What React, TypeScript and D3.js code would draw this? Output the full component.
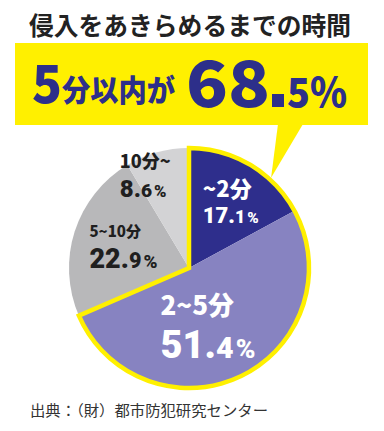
import React from "react";
import * as d3 from "d3";

const categories = ["~2分", "2~5分", "5~10分", "10分~"];
const values = [17.1, 51.4, 22.9, 8.6];
const valueLabels = ["17.1", "51.4", "22.9", "8.6"];
const colors = ["#2e2e8c", "#8783c1", "#b8b8ba", "#d3d3d5"];
const titleText = "侵入をあきらめるまでの時間";
const sourceText = "出典：（財）都市防犯研究センター";

const W = 384;
const H = 431;
const cx = 189;
const cy = 268;
const R = 120;
const YELLOW = "#fff000";
const NAVY = "#2d2f8a";

// label styling per slice: offsets from centroid, sizes, color
const labelStyle = [
  { dx: -23, dy: -9, s1: 22, s2: 22, gap: 26, fill: "#ffffff" },
  { dx: -60, dy: -18, s1: 26, s2: 38, gap: 43, fill: "#ffffff" },
  { dx: -31, dy: -9, s1: 15, s2: 27, gap: 31, fill: "#1f1f1f" },
  { dx: -50, dy: -31, s1: 18, s2: 24, gap: 29, fill: "#1f1f1f" },
];

export default function App() {
  const pie = d3
    .pie<number>()
    .sort(null)
    .value((d) => d)
    .startAngle(0)
    .endAngle(2 * Math.PI);
  const arcs = pie(values);
  const arc = d3.arc<any>().innerRadius(0).outerRadius(R);
  const labelArc = d3.arc<any>().innerRadius(R * 0.6).outerRadius(R * 0.6);

  const total = d3.sum(values);
  const highlightEnd = ((values[0] + values[1]) / total) * 2 * Math.PI;
  const outline = arc({ startAngle: 0, endAngle: highlightEnd });

  const font = "'Noto Sans CJK JP', 'Noto Sans', sans-serif";
  const numFont = "'Roboto', 'Noto Sans', sans-serif";

  const tipAngle = 0.235 * Math.PI;
  const tipX = cx + (R + 2) * Math.sin(tipAngle);
  const tipY = cy - (R + 2) * Math.cos(tipAngle);

  return (
    <svg
      width={W}
      height={H}
      style={{ position: "absolute", left: 0, top: 0, background: "#fff" }}
    >
      <rect x={0} y={0} width={W} height={H} fill="#fff" />
      <text
        x={190}
        y={35}
        textAnchor="middle"
        fontFamily={font}
        fontWeight={700}
        fontSize={25}
        fill="#222"
        textLength={322}
        lengthAdjust="spacingAndGlyphs"
      >
        {titleText}
      </text>

      <rect x={15} y={43} width={353} height={82} fill={YELLOW} />
      <path d={`M278,124 L303,124 L${tipX},${tipY} Z`} fill={YELLOW} />
      <g fill={NAVY} fontFamily={font} fontWeight={900}>
        <text x={32} y={103} fontSize={52} textLength={30} lengthAdjust="spacingAndGlyphs">
          5
        </text>
        <text x={62} y={101} fontSize={30} textLength={113} lengthAdjust="spacingAndGlyphs">
          分以内が
        </text>
        <text x={186} y={107} fontSize={64} textLength={84} lengthAdjust="spacingAndGlyphs">
          68
        </text>
        <rect x={272} y={94} width={12} height={13} />
        <text x={287} y={107} fontSize={40} textLength={60} lengthAdjust="spacingAndGlyphs">
          5%
        </text>
      </g>

      <g transform={`translate(${cx},${cy})`}>
        {arcs.map((a, i) => (
          <path key={categories[i]} d={arc(a) || ""} fill={colors[i]} />
        ))}
        <path
          d={outline || ""}
          fill="none"
          stroke={YELLOW}
          strokeWidth={4.5}
          strokeLinejoin="miter"
        />
        {arcs.map((a, i) => {
          const [lx, ly] = labelArc.centroid(a);
          const st = labelStyle[i];
          const x = lx + st.dx;
          const y = ly + st.dy;
          const [ip, dp] = valueLabels[i].split(".");
          return (
            <g key={"l" + i} fill={st.fill} fontWeight={900} textAnchor="start">
              <text x={x} y={y} fontSize={st.s1} fontFamily={font}>
                {categories[i]}
              </text>
              <text x={x} y={y + st.gap} fontSize={st.s2} fontFamily={numFont}>
                <tspan>{ip}</tspan>
                <tspan>.</tspan>
                <tspan fontSize={st.s2 * 0.8}>{dp}</tspan>
                <tspan fontSize={st.s2 * 0.7} dx={2}>%</tspan>
              </text>
            </g>
          );
        })}
      </g>

      <text
        x={30}
        y={416}
        fontFamily={font}
        fontSize={15}
        fill="#333"
        textLength={238}
        lengthAdjust="spacingAndGlyphs"
      >
        {sourceText}
      </text>
    </svg>
  );
}
